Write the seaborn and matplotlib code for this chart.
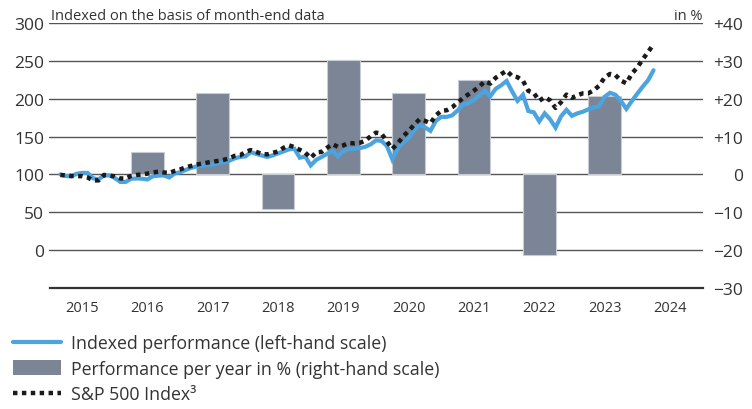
import numpy as np
import pandas as pd
import matplotlib
matplotlib.use("Agg")
import matplotlib.pyplot as plt
import seaborn as sns
from matplotlib.lines import Line2D
from matplotlib.patches import Patch

# ---------------- data ----------------
# month-end data, first point = end of February 2015, last = end of March 2024
first_month = pd.Period("2015-02", freq="M")

indexed = [100.0, 98.0, 97.4, 100.9, 102.0, 102.0, 95.0, 93.4, 98.7, 98.7, 95.4,
           90.1, 90.1, 94.3, 94.7, 94.3, 93.4, 97.6, 98.4, 98.7, 96.0, 101.3, 102.9,
           105.9, 108.6, 110.6, 111.6, 112.4, 113.2, 114.8, 116.3, 117.9, 121.2, 123.1, 123.8,
           129.5, 127.1, 125.1, 123.1, 125.1, 127.8, 130.4, 133.1, 134.0, 122.1, 123.8, 111.9,
           119.2, 123.1, 127.1, 131.1, 123.8, 130.8, 133.7, 134.0, 134.8, 136.4, 139.7, 145.0,
           144.3, 137.7, 119.8, 134.4, 142.3, 147.6, 158.2, 165.7, 162.2, 157.5, 170.8, 176.0,
           176.0, 178.0, 184.6, 192.2, 193.9, 198.5, 204.5, 210.5, 203.2, 213.1, 217.7, 223.4,
           209.8, 197.2, 205.2, 183.7, 182.0, 170.1, 180.7, 172.8, 161.8, 176.7, 185.3, 177.4,
           180.7, 182.7, 186.0, 188.6, 190.0, 202.5, 207.8, 205.2, 197.2, 186.6, 196.9, 206.5,
           215.8, 224.4, 237.6]

sp500 = [99.3, 98.7, 98.0, 97.7, 97.7, 96.0, 92.1, 92.1, 99.3, 98.7, 97.4,
         94.7, 94.7, 98.0, 99.3, 100.0, 101.1, 102.6, 103.6, 102.6, 102.0, 104.6, 106.6,
         109.3, 111.2, 113.0, 114.3, 115.6, 116.8, 117.9, 119.2, 121.2, 124.5, 125.1, 129.8,
         132.2, 129.8, 127.0, 126.5, 128.4, 130.4, 135.1, 138.4, 136.1, 132.4, 128.7, 121.8,
         129.1, 129.8, 135.1, 140.1, 136.4, 138.4, 141.6, 141.0, 141.7, 144.4, 150.3, 155.2,
         153.9, 143.7, 133.7, 141.0, 150.3, 157.5, 165.5, 172.8, 170.8, 167.5, 178.1, 184.0,
         184.8, 188.7, 194.9, 201.0, 205.8, 210.7, 216.2, 223.0, 220.0, 227.7, 232.4, 237.0,
         230.0, 228.4, 223.8, 210.3, 207.5, 197.3, 201.9, 197.9, 187.8, 195.3, 205.4, 201.2,
         204.5, 207.1, 207.1, 211.1, 217.1, 227.9, 232.7, 231.2, 223.9, 220.4, 232.9, 241.2,
         251.8, 261.7, 271.8]

bar_years = [2016, 2017, 2018, 2019, 2020, 2021, 2022, 2023]
bar_perf = [5.8, 21.4, -9.0, 30.2, 21.4, 24.9, -21.4, 20.6]

year_labels = ["2015", "2016", "2017", "2018", "2019", "2020", "2021", "2022", "2023", "2024"]
left_ticks = [300, 250, 200, 150, 100, 50, 0, -50]
left_labels = ["300", "250", "200", "150", "100", "50", "0", ""]
right_ticks = [40, 30, 20, 10, 0, -10, -20, -30]
right_labels = ["+40", "+30", "+20", "+10", "0", "\u221210", "\u221220", "\u221230"]

legend_labels = ["Indexed performance (left-hand scale)",
                 "Performance per year in % (right-hand scale)",
                 "S&P 500 Index\u00b3"]

# ---------------- frames ----------------
periods = pd.period_range(first_month, periods=len(indexed), freq="M")
xpos = periods.year + periods.month / 12.0
lines_df = pd.DataFrame({"x": xpos, "indexed": indexed, "sp500": sp500})
bars_df = pd.DataFrame({"x": [y + 0.5 for y in bar_years], "perf": bar_perf})

# ---------------- style ----------------
sns.set_theme(style="white")
plt.rcParams["font.family"] = ["Open Sans", "DejaVu Sans"]
txt = "#333333"
blue = "#4ba4e0"
bar_col = "#7b8595"
grid_col = "#555555"

W, H = 752, 410
fig = plt.figure(figsize=(W / 100, H / 100), dpi=100)
L, R, T, B = 49.5, 702.5, 24, 289
base = fig.add_axes([L / W, 1 - B / H, (R - L) / W, (B - T) / H])

# bars on right-hand scale (bottom layer)
sns.barplot(data=bars_df, x="x", y="perf", native_scale=True, width=0.5,
            color=bar_col, saturation=1, edgecolor="#c8ccd3", linewidth=0.8, ax=base)
base.set_ylim(-30, 40)
base.set_xlim(2015, 2025)
base.set_xlabel("")
base.set_ylabel("")

# lines on left-hand scale (top layer)
ax = base.twinx()
sns.lineplot(data=lines_df, x="x", y="indexed", color=blue, linewidth=3,
             ax=ax, solid_joinstyle="miter")
sns.lineplot(data=lines_df, x="x", y="sp500", color="#1a1a1a", linewidth=3.2,
             linestyle=(0, (1, 1)), ax=ax)
ax.set_ylim(-50, 300)
ax.set_xlim(2015, 2025)
ax.yaxis.set_ticks_position("left")
ax.yaxis.set_label_position("left")
ax.set_yticks(left_ticks)
ax.set_yticklabels(left_labels)
ax.tick_params(axis="y", length=0, pad=4, labelsize=12.5, labelcolor=txt)
ax.set_xlabel("")
ax.set_ylabel("")
ax.grid(False)
for s in ax.spines.values():
    s.set_visible(False)

# right-hand axis settings (after twinx, which resets tick side)
base.yaxis.set_ticks_position("right")
base.set_yticks(right_ticks)
base.set_yticklabels(right_labels)
base.tick_params(axis="y", which="both", left=False, labelleft=False,
                 right=False, labelright=True, length=0, pad=29,
                 labelsize=12.5, labelcolor=txt)
for lab in base.yaxis.get_ticklabels():
    lab.set_ha("right")
base.set_xticks([y + 0.5 for y in range(2015, 2025)])
base.set_xticklabels(year_labels)
base.tick_params(axis="x", length=0, pad=9, labelsize=10.5, labelcolor=txt)
base.set_axisbelow(True)
base.grid(axis="y", color=grid_col, linewidth=1.0)
base.grid(axis="x", visible=False)
for s in ["top", "left", "right"]:
    base.spines[s].set_visible(False)
base.spines["bottom"].set_color("#333333")
base.spines["bottom"].set_linewidth(1.6)

# header texts
fig.text(51 / W, 1 - 20.5 / H, "Indexed on the basis of month-end data",
         ha="left", va="baseline", fontsize=10.5, color=txt)
fig.text(702 / W, 1 - 20.5 / H, "in %", ha="right", va="baseline",
         fontsize=10.5, color=txt)

# legend
handles = [Line2D([], [], color=blue, linewidth=3),
           Patch(facecolor=bar_col, edgecolor="none"),
           Line2D([], [], color="#1a1a1a", linewidth=3.2, linestyle=(0, (1, 1)))]
fig.legend(handles, legend_labels, loc="upper left",
           bbox_to_anchor=(8 / W, 1 - 330 / H), frameon=False,
           fontsize=12.8, labelcolor=txt, handlelength=2.7, handleheight=0.9,
           handletextpad=0.55, labelspacing=0.42, borderaxespad=0, borderpad=0.3)

fig.savefig("out.png", dpi=100)
